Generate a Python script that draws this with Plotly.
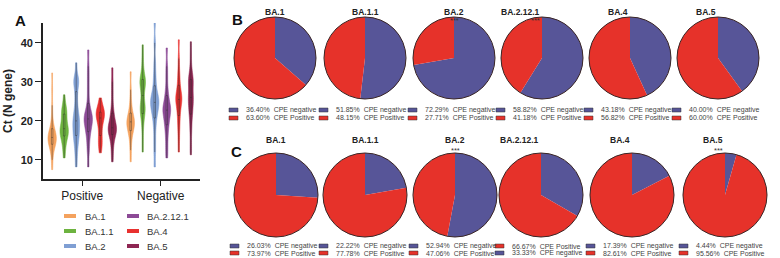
import plotly.graph_objects as go

# ---------------- data ----------------
variants = ["BA.1", "BA.1.1", "BA.2", "BA.2.12.1", "BA.4", "BA.5"]
groups = ["Positive", "Negative"]

pos_ba1 = [7.5, 10, 12, 13, 13.5, 14, 14.5, 15, 15, 15.5, 15.5, 16, 16, 16.5, 17, 17.5, 18, 19, 21, 24, 28, 32.3]
pos_ba11 = [10.5, 12.5, 14, 15, 16, 16.5, 17, 17, 17.5, 18, 18.5, 19, 20, 21, 22, 22.5, 23, 24, 26.7]
pos_ba2 = [8.2, 11, 13, 14.5, 15.5, 16.5, 17, 18, 19, 19.5, 20, 21, 22, 23, 25, 27, 29, 30, 30.5, 31, 34.9]
pos_ba2121 = [8.2, 12, 14, 16, 17, 18, 19, 19.5, 20, 20.5, 21, 21.5, 22, 23, 25, 28, 31, 34, 38.2]
pos_ba4 = [11.8, 13.5, 14.5, 15.5, 17, 18.5, 19.5, 20.5, 21, 21.5, 22, 22, 22.5, 23, 24, 25.9]
pos_ba5 = [9.5, 12, 14, 15.5, 16.5, 17, 17.5, 18, 18, 18.5, 19, 20, 21, 22, 24, 27, 30, 33.6]

neg_ba1 = [9.5, 12.5, 15, 16.5, 17.5, 18, 18.5, 19, 19.5, 20, 20, 20.5, 21, 22, 23, 25, 28, 32.6]
neg_ba11 = [12, 15, 18, 20, 21.5, 22, 23, 23.5, 24, 25, 26.5, 28, 29, 29.5, 30, 30.5, 31, 32, 34, 36.5, 39.5]
neg_ba2 = [8.2, 12, 15, 18, 20, 21.5, 22.5, 23, 24, 24.5, 25, 25.5, 26, 27, 28, 30, 32, 35, 40, 45.4]
neg_ba2121 = [10.5, 13, 15.5, 17.5, 19, 20, 21, 22, 22.5, 23, 23.5, 24, 25, 26.5, 28, 31, 34, 38.7]
neg_ba4 = [12, 15, 17.5, 19.5, 21, 22.5, 23.5, 24.5, 25, 25.5, 26, 26.5, 27, 28, 29.5, 31, 33, 36, 40.8]
neg_ba5 = [11.3, 14, 17, 19, 21, 22, 23, 24, 25, 25.5, 26, 27, 28, 29, 30, 30.5, 31, 32, 34, 37, 40.3]

pos_samples = [pos_ba1, pos_ba11, pos_ba2, pos_ba2121, pos_ba4, pos_ba5]
neg_samples = [neg_ba1, neg_ba11, neg_ba2, neg_ba2121, neg_ba4, neg_ba5]

y_ticks = [10, 20, 30, 40]

b_neg = [36.40, 51.85, 72.29, 58.82, 43.18, 40.00]
b_pos = [63.60, 48.15, 27.71, 41.18, 56.82, 60.00]
c_neg = [26.03, 22.22, 52.94, 33.33, 17.39, 4.44]
c_pos = [73.97, 77.78, 47.06, 66.67, 82.61, 95.56]
b_sig = ["", "", "***", "***", "", ""]
c_sig = ["", "", "***", "", "", "***"]
c_legend_first = ["neg", "neg", "neg", "pos", "neg", "neg"]
b_legend_first = ["neg", "neg", "neg", "neg", "neg", "neg"]

# ---------------- style ----------------
W, H = 780, 258
violin_colors = ["#f4a25e", "#6db33f", "#7f9fd3", "#8c4a96", "#e8312f", "#8e2652"]
NEG_COL = "#575598"
POS_COL = "#e6322a"
FONT = "Liberation Sans, Arial, sans-serif"


def px(x):
    return x / W


def py(y):
    return 1 - y / H


fig = go.Figure()

# violins
for i, v in enumerate(variants):
    xs = [groups[0]] * len(pos_samples[i]) + [groups[1]] * len(neg_samples[i])
    ys = pos_samples[i] + neg_samples[i]
    fig.add_trace(go.Violin(
        x=xs, y=ys, name=v, legendgroup=v, showlegend=False,
        fillcolor=violin_colors[i], line=dict(color=violin_colors[i], width=0.5),
        opacity=1, points=False, spanmode="hard", bandwidth=1.6,
        box=dict(visible=True, width=0.18, fillcolor=violin_colors[i],
                 line=dict(color="rgba(40,40,40,0.7)", width=0.6)),
        meanline=dict(visible=False), scalemode="width", hoverinfo="y",
    ))

fig.update_layout(
    violinmode="group", violingap=0.08, violingroupgap=0.3,
    xaxis=dict(domain=[px(43), px(200)], type="category", categoryorder="array",
               categoryarray=groups, range=[-0.5, 1.5], showline=True,
               linecolor="#222", linewidth=1.6, ticks="outside", ticklen=5,
               tickwidth=1.4, tickcolor="#222", showgrid=False, zeroline=False,
               tickfont=dict(family=FONT, size=12, color="#222"), anchor="y"),
    yaxis=dict(domain=[py(179), py(23)], range=[5.1, 45.1], tickvals=y_ticks,
               showline=True, linecolor="#222", linewidth=1.6, ticks="outside",
               ticklen=6, tickwidth=1.4, tickcolor="#222", showgrid=False,
               zeroline=False, anchor="x",
               tickfont=dict(family=FONT, size=11, color="#222", weight="bold"),
               title=dict(text="Ct (N gene)", standoff=6,
                          font=dict(family=FONT, size=12, color="#222", weight="bold"))),
)

# pies
rows = [
    (b_neg, b_pos, b_sig, b_legend_first, [275, 365, 454, 542, 630, 718], 58, 41, 5, 14, 110, 118),
    (c_neg, c_pos, c_sig, c_legend_first, [276, 365, 455, 541, 632, 725], 195, 42, 140, 150, 246, 253),
]
shapes = []
annotations = []
for neg, pos, sig, first, cxs, cy, r, ty, sy, l1, l2 in rows:
    for i, v in enumerate(variants):
        cx = cxs[i]
        dom = dict(x=[px(cx - r), px(cx + r)], y=[py(cy + r), py(cy - r)])
        fig.add_trace(go.Pie(
            values=[neg[i], pos[i]], labels=["CPE negative", "CPE Positive"],
            marker=dict(colors=[NEG_COL, POS_COL], line=dict(width=0)),
            sort=False, direction="clockwise", rotation=0, textinfo="none",
            domain=dom, showlegend=False, hoverinfo="label+percent",
        ))
        fig.add_trace(go.Pie(
            values=[1], labels=["outline"],
            marker=dict(colors=["rgba(0,0,0,0)"], line=dict(color="#3a2626", width=1)),
            textinfo="none", domain=dom, showlegend=False, hoverinfo="skip",
        ))
        annotations.append(dict(x=px(cx), y=py(ty), xref="paper", yref="paper",
                                text="<b>" + v + "</b>", showarrow=False,
                                font=dict(family=FONT, size=8.5, color="#222")))
        if sig[i]:
            annotations.append(dict(x=px(cx), y=py(sy), xref="paper", yref="paper",
                                    text=sig[i], showarrow=False,
                                    font=dict(family=FONT, size=7.5, color="#333")))
        entries = [("neg", neg[i], "CPE negative", NEG_COL), ("pos", pos[i], "CPE Positive", POS_COL)]
        if first[i] == "pos":
            entries = entries[::-1]
        for (key, val, lab, col), ly in zip(entries, [l1, l2]):
            shapes.append(dict(type="rect", xref="paper", yref="paper",
                               x0=px(cx - 46), x1=px(cx - 37), y0=py(ly + 2), y1=py(ly - 2),
                               fillcolor=col, line=dict(color="#333", width=0.5)))
            annotations.append(dict(x=px(cx - 31), y=py(ly), xref="paper", yref="paper",
                                    xanchor="left", yanchor="middle",
                                    text=f"{val:.2f}%\u00a0\u00a0{lab}", showarrow=False,
                                    font=dict(family=FONT, size=7, color="#444")))

# violin legend (manual)
leg_pos = [(64, 83, 216), (64, 83, 231), (64, 83, 246), (127, 145, 216), (127, 145, 231), (127, 145, 246)]
for i, v in enumerate(variants):
    sx, tx, ly = leg_pos[i]
    shapes.append(dict(type="rect", xref="paper", yref="paper",
                       x0=px(sx), x1=px(sx + 12), y0=py(ly + 2), y1=py(ly - 2),
                       fillcolor=violin_colors[i], line=dict(width=0)))
    annotations.append(dict(x=px(tx), y=py(ly), xref="paper", yref="paper",
                            xanchor="left", yanchor="middle", text=v, showarrow=False,
                            font=dict(family=FONT, size=9.5, color="#333")))

# panel letters
for letter, x, y in [("A", 13, 10), ("B", 230, 9), ("C", 229, 151)]:
    annotations.append(dict(x=px(x), y=py(y), xref="paper", yref="paper",
                            text="<b>" + letter + "</b>", showarrow=False,
                            font=dict(family=FONT, size=15, color="#111")))

fig.update_layout(
    width=W, height=H, autosize=False,
    margin=dict(l=0, r=0, t=0, b=0),
    paper_bgcolor="white", plot_bgcolor="white",
    shapes=shapes, annotations=annotations,
    font=dict(family=FONT),
)

fig.write_html("out.html", config={"displayModeBar": False},
               post_script="document.body.style.margin='0';document.body.style.overflow='hidden';")
